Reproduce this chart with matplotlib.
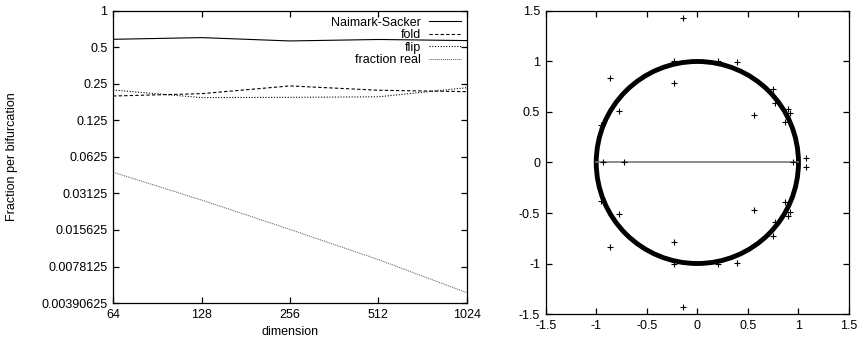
import matplotlib
matplotlib.use("Agg")
import matplotlib.pyplot as plt
from matplotlib.patches import Circle
import numpy as np

plt.rcParams['font.family'] = ['Liberation Sans', 'DejaVu Sans']
plt.rcParams['font.size'] = 9

# left panel: fraction per bifurcation type vs dimension
dims = [64, 128, 256, 512, 1024]
naimark_sacker = [0.584, 0.603, 0.566, 0.582, 0.570]
fold = [0.199, 0.208, 0.241, 0.222, 0.216]
flip = [0.223, 0.193, 0.194, 0.196, 0.233]
fraction_real = [0.0468, 0.0276, 0.0158, 0.0089, 0.00475]

y_ticks = [1, 0.5, 0.25, 0.125, 0.0625, 0.03125, 0.015625, 0.0078125, 0.00390625]
y_labels = ['1', '0.5', '0.25', '0.125', '0.0625', '0.03125', '0.015625',
            '0.0078125', '0.00390625']

# right panel: eigenvalues in the complex plane
ring_center = (0.0, 0.0)
ring_radius = 1.0
real_range = [-1.0, 1.0]
outlier_re = [-0.14, -0.14, -0.864, -0.864, -0.228, -0.228, -0.778, -0.778,
              -0.93, -0.725, -0.956, -0.956, 0.389, 0.389, 0.56, 0.56,
              0.745, 0.745, 0.894, 0.894, 0.917, 0.917, 0.867, 0.867,
              0.768, 0.768, 1.075, 1.075, 0.95, 0.2, 0.2, -0.23, -0.23]
outlier_im = [1.43, -1.43, 0.834, -0.837, 0.785, -0.785, 0.514, -0.514,
              0.0, 0.0, 0.372, -0.38, 0.992, -0.999, 0.474, -0.474,
              0.725, -0.727, 0.53, -0.534, 0.494, -0.494, 0.40, -0.396,
              0.587, -0.59, 0.04, -0.04, 0.0, 1.0, -1.0, 1.0, -1.0]
ticks_c = [-1.5, -1, -0.5, 0, 0.5, 1, 1.5]
tick_labels_c = ['-1.5', '-1', '-0.5', '0', '0.5', '1', '1.5']

fig = plt.figure(figsize=(8.63, 3.43), dpi=100)
ax1 = fig.add_axes([0.131, 0.1166, 0.410, 0.8514])
ax2 = fig.add_axes([0.6323, 0.0845, 0.3515, 0.8835])

for ax in (ax1, ax2):
    ax.tick_params(direction='in', length=4.5, width=0.9, top=True, right=True,
                   labelsize=9, pad=4)
    for s in ax.spines.values():
        s.set_linewidth(0.9)

# left
ax1.set_xscale('log', base=2)
ax1.set_yscale('log', base=2)
ax1.plot(dims, naimark_sacker, color='black', lw=0.8, label='Naimark-Sacker')
ax1.plot(dims, fold, color='black', lw=0.8, dashes=(3, 2), label='fold')
ax1.plot(dims, flip, color='black', lw=0.8, dashes=(1, 1.5), label='flip')
ax1.plot(dims, fraction_real, color='#555555', lw=0.7, dashes=(1, 1),
         label='fraction real')
ax1.set_xlim(64, 1024)
ax1.set_ylim(0.00390625, 1)
ax1.set_xticks(dims)
ax1.set_xticklabels([str(d) for d in dims])
ax1.set_yticks(y_ticks)
ax1.set_yticklabels(y_labels)
ax1.minorticks_off()
ax1.set_xlabel('dimension', labelpad=4)
ax1.set_ylabel('Fraction per bifurcation', labelpad=17)
ax1.legend(loc='upper right', bbox_to_anchor=(1.0, 1.0), frameon=False,
           markerfirst=False, handlelength=2.6, handletextpad=0.6,
           labelspacing=0.05, borderaxespad=0.15, borderpad=0.3, fontsize=9)

# right
ax2.add_patch(Circle(ring_center, ring_radius, fill=False, ec='black', lw=3.5))
ax2.plot(real_range, [0, 0], color='#777777', lw=1.2)
ax2.plot(outlier_re, outlier_im, ls='none', marker='+', ms=4, mew=0.8,
         color='black')
ax2.set_xlim(-1.5, 1.5)
ax2.set_ylim(-1.5, 1.5)
ax2.set_xticks(ticks_c)
ax2.set_xticklabels(tick_labels_c)
ax2.set_yticks(ticks_c)
ax2.set_yticklabels(tick_labels_c)

fig.savefig('out.png', dpi=100)
